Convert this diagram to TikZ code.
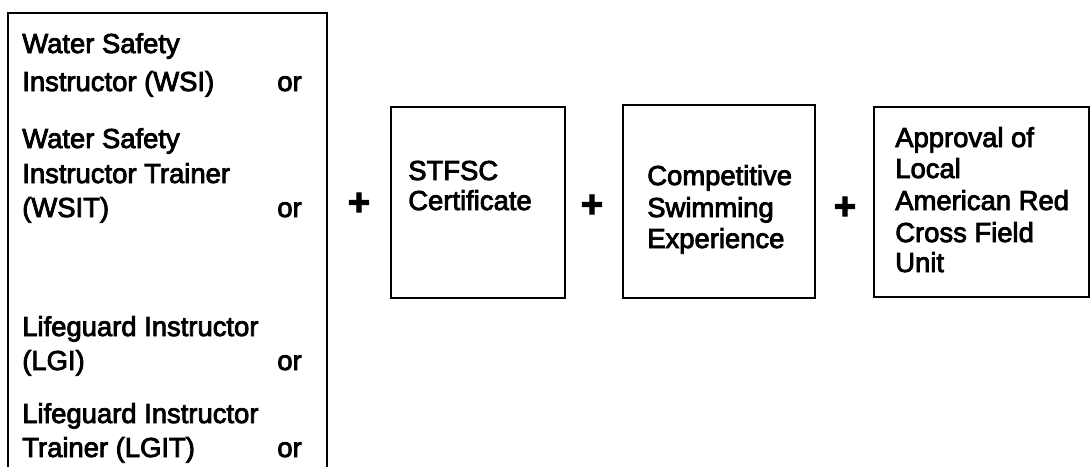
\documentclass[tikz,border=0pt]{standalone}
\usepackage{fontspec}
\setmainfont{Liberation Sans}[FakeBold=3]
\begin{document}
\begin{tikzpicture}[x=0.025cm,y=-0.025cm,
  box/.style={line width=1.6pt},
  txt/.style={anchor=base west,inner sep=0pt,font=\fontsize{19.5}{23}\selectfont},
  ortxt/.style={anchor=base east,inner sep=0pt,font=\fontsize{19.5}{23}\selectfont},
  plus/.style={inner sep=0pt,font=\fontsize{27}{30}\selectfont\bfseries}]
\useasboundingbox (0,0) rectangle (1092,467);
% open box on the left
\draw[box] (8,467) -- (8,13) -- (327,13) -- (327,467);
\foreach \t/\y [count=\i] in {Water Safety/53,Instructor (WSI)/91,Water Safety/148,
  Instructor Trainer/183,(WSIT)/217,Lifeguard Instructor/336,(LGI)/370,
  Lifeguard Instructor/423,Trainer (LGIT)/457}
  \node[txt] (cert\i) at (22,\y) {\t};
\foreach \y [count=\i] in {91,217,370,457}
  \node[ortxt] (or\i) at (302,\y) {or};
% the other boxes
\draw[box] (391,107) rectangle (565,298);
\node[txt] (stfsc1) at (408,180) {STFSC};
\node[txt] (stfsc2) at (408,210) {Certificate};
\draw[box] (623,105) rectangle (815,298);
\node[txt] (swim1) at (647,185) {Competitive};
\node[txt] (swim2) at (647,217) {Swimming};
\node[txt] (swim3) at (647,248) {Experience};
\draw[box] (874,107) rectangle (1089,297);
\foreach \t/\y [count=\i] in {Approval of/147,Local/178,American Red/210,
  Cross Field/242,Unit/272}
  \node[txt] (arc\i) at (895,\y) {\t};
% plus signs
\node[plus] (plusa) at (359,204) {+};
\node[plus] (plusb) at (592,206) {+};
\node[plus] (plusc) at (845,208) {+};
\end{tikzpicture}
\end{document}
